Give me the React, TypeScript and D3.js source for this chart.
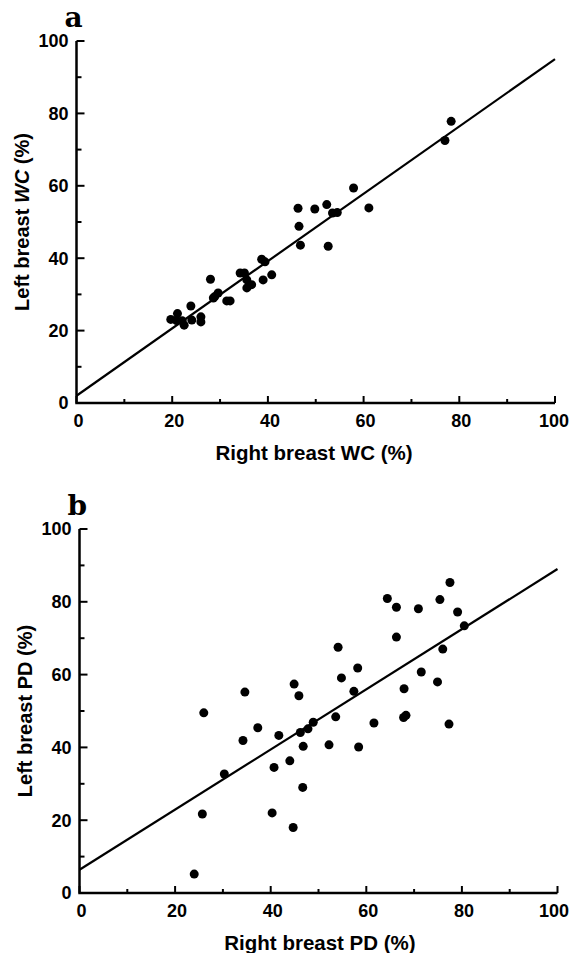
import React from "react";
import * as d3 from "d3";

// panel a: water content (WC), right vs left
const wcRight = [19.7, 21.1, 20.9, 22.1, 22.5, 23.9, 24.1, 26.0, 26.0, 28.0, 28.6, 28.9, 29.6, 31.4, 32.1, 34.2, 35.1, 35.6, 35.6, 36.6, 38.7, 39.4, 39.0, 40.8, 46.3, 46.5, 46.8, 49.8, 52.3, 53.5, 54.5, 52.6, 57.9, 61.1, 77.0, 78.3];
const wcLeft = [23.1, 24.7, 22.8, 22.7, 21.5, 26.8, 22.9, 23.8, 22.4, 34.2, 29.0, 29.4, 30.4, 28.2, 28.2, 35.9, 35.9, 34.0, 31.8, 32.7, 39.7, 39.0, 34.0, 35.4, 53.8, 48.8, 43.6, 53.6, 54.8, 52.5, 52.6, 43.3, 59.4, 53.9, 72.5, 77.8];
const wcFit = [2.0, 0.93]; // intercept, slope

// panel b: parenchymal density (PD)
const pdRight = [24.0, 25.7, 26.0, 30.3, 34.2, 34.6, 37.3, 40.3, 40.7, 41.7, 44.0, 44.7, 44.9, 45.9, 46.2, 46.8, 46.7, 47.8, 48.9, 52.2, 53.6, 54.1, 54.8, 57.4, 58.2, 58.4, 61.6, 64.4, 66.3, 66.3, 67.9, 67.8, 68.3, 70.9, 71.5, 74.9, 75.4, 76.0, 77.3, 77.5, 79.1, 80.5];
const pdLeft = [5.2, 21.7, 49.5, 32.7, 41.9, 55.2, 45.4, 22.0, 34.5, 43.3, 36.3, 18.0, 57.4, 54.2, 44.1, 40.3, 29.0, 45.1, 46.9, 40.7, 48.4, 67.5, 59.1, 55.4, 61.8, 40.1, 46.7, 80.9, 78.5, 70.3, 56.1, 48.2, 48.8, 78.1, 60.7, 58.0, 80.6, 67.0, 46.4, 85.3, 77.2, 73.4];
const pdFit = [6.4, 0.826];

const majorTicks = [0, 20, 40, 60, 80, 100];
const minorTicks = [10, 30, 50, 70, 90];

const sans = "'Liberation Sans', Arial, sans-serif";

function Panel({ letter, xs, ys, fit, x0, x1, y0, y1, xTitle, yTitle, titleX }) {
  const x = d3.scaleLinear().domain([0, 100]).range([x0, x1]);
  const y = d3.scaleLinear().domain([0, 100]).range([y0, y1]);
  const line = d3.line().x((d) => x(d)).y((d) => y(fit[0] + fit[1] * d));
  const midY = (y0 + y1) / 2;
  return (
    <g>
      <text x={x0 - 12} y={y1 - 14} fontFamily="'DejaVu Serif', serif" fontWeight="bold" fontSize={28}>{letter}</text>
      {/* axes */}
      <path d={`M${x0},${y1} V${y0} H${x1}`} fill="none" stroke="#000" strokeWidth={2.5} />
      {majorTicks.map((t) => (
        <g key={"m" + t}>
          <line x1={x0} x2={x0 + 8} y1={y(t)} y2={y(t)} stroke="#000" strokeWidth={2} />
          <line x1={x(t)} x2={x(t)} y1={y0} y2={y0 - 7} stroke="#000" strokeWidth={2} />
          <text x={x0 - 8} y={y(t)} dy="0.35em" textAnchor="end" fontFamily={sans} fontWeight="bold" fontSize={18}>{t}</text>
          <text x={t === 100 ? 569 : x(t) + 2} y={y0 + 24} textAnchor={t === 100 ? "end" : "middle"} fontFamily={sans} fontWeight="bold" fontSize={18}>{t}</text>
        </g>
      ))}
      {minorTicks.map((t) => (
        <g key={"n" + t}>
          <line x1={x0} x2={x0 + 5} y1={y(t)} y2={y(t)} stroke="#000" strokeWidth={2} />
          <line x1={x(t)} x2={x(t)} y1={y0} y2={y0 - 4} stroke="#000" strokeWidth={2} />
        </g>
      ))}
      <path d={line([0, 100])} fill="none" stroke="#000" strokeWidth={2.2} />
      {xs.map((v, i) => (
        <circle key={i} cx={x(v)} cy={y(ys[i])} r={4.5} fill="#000" />
      ))}
      <text x={titleX} y={y0 + 57} textAnchor="middle" fontFamily={sans} fontWeight="bold" fontSize={20.5}>{xTitle}</text>
      <text transform={`translate(${x0 - 48},${midY}) rotate(-90)`} textAnchor="middle" fontFamily={sans} fontWeight="bold" fontSize={20}>{yTitle}</text>
    </g>
  );
}

export default function App() {
  return (
    <svg width={571} height={953} style={{ position: "absolute", left: 0, top: 0, background: "#fff" }}>
      <Panel
        letter="a"
        xs={wcRight}
        ys={wcLeft}
        fit={wcFit}
        x0={76.5}
        x1={555}
        y0={403}
        y1={41}
        titleX={314}
        xTitle="Right breast WC (%)"
        yTitle={<>Left breast <tspan fontStyle="italic">WC</tspan> (%)</>}
      />
      <Panel
        letter="b"
        xs={pdRight}
        ys={pdLeft}
        fit={pdFit}
        x0={79.5}
        x1={557.5}
        y0={893}
        y1={529}
        titleX={320}
        xTitle="Right breast PD (%)"
        yTitle="Left breast PD (%)"
      />
    </svg>
  );
}
